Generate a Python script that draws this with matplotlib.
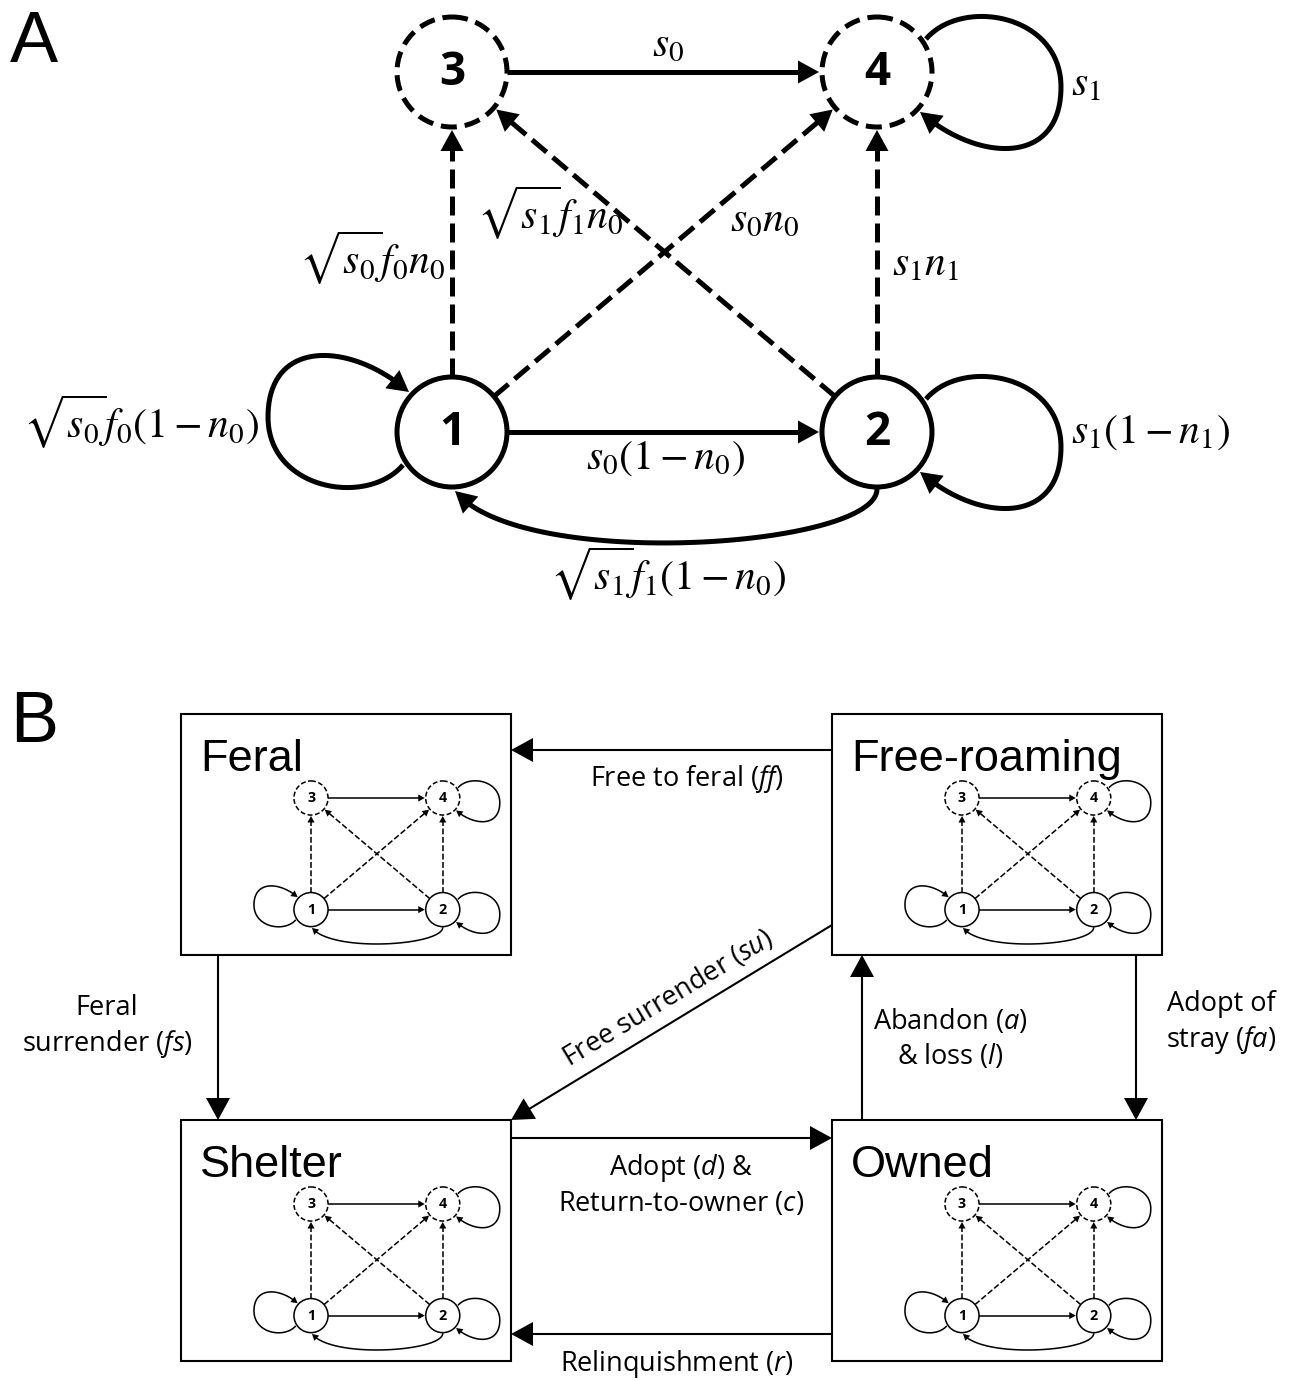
import numpy as np
import matplotlib.pyplot as plt
from matplotlib.patches import Circle, Rectangle, Polygon

plt.rcParams['mathtext.fontset'] = 'custom'
plt.rcParams['mathtext.rm'] = 'Open Sans'
plt.rcParams['mathtext.it'] = 'Open Sans:italic'

W, H = 1295, 1381

# ---- panel A: the four life stages and their transitions ----
node_ids = [1, 2, 3, 4]
dashed_nodes = [3, 4]
# (source, target, dashed)
edges = [(3, 4, False), (1, 2, False), (1, 3, True), (2, 4, True),
         (1, 4, True), (2, 3, True)]
loops = [1, 2, 4]
edge_labels = {
    (3, 4): r'$s_0$',
    (1, 2): r'$s_0(1-n_0)$',
    (1, 3): r'$\sqrt{s_0}f_0n_0$',
    (2, 4): r'$s_1n_1$',
    (1, 4): r'$s_0n_0$',
    (2, 3): r'$\sqrt{s_1}f_1n_0$',
    (1, 1): r'$\sqrt{s_0}f_0(1-n_0)$',
    (2, 2): r'$s_1(1-n_1)$',
    (4, 4): r'$s_1$',
    (2, 1): r'$\sqrt{s_1}f_1(1-n_0)$',
}

# ---- panel B: compartments and flows ----
compartments = ['Feral', 'Free-roaming', 'Shelter', 'Owned']
flows = [('Free-roaming', 'Feral', 'Free to feral ($ff$)'),
         ('Feral', 'Shelter', 'Feral\nsurrender ($fs$)'),
         ('Free-roaming', 'Shelter', 'Free surrender ($su$)'),
         ('Shelter', 'Owned', 'Adopt ($d$) &\nReturn-to-owner ($c$)'),
         ('Owned', 'Free-roaming', 'Abandon ($a$)\n& loss ($l$)'),
         ('Free-roaming', 'Owned', 'Adopt of\nstray ($fa$)'),
         ('Owned', 'Shelter', 'Relinquishment ($r$)')]

# layout (pixels)
node_xy = {1: (452, 432), 2: (877, 432), 3: (452, 72), 4: (877, 72)}
R = 55
label_xy = {(3, 4): (668, 43), (1, 2): (666, 457), (1, 3): (372, 258),
            (2, 4): (925, 263), (1, 4): (765, 218), (2, 3): (550, 213),
            (1, 1): (141, 422), (2, 2): (1151, 431), (4, 4): (1086, 83),
            (2, 1): (668, 574)}
box_xy = {'Feral': (181, 714), 'Free-roaming': (832, 714),
          'Shelter': (181, 1120), 'Owned': (832, 1120)}
BW, BH = 330, 241
flow_geom = {
    'Free to feral ($ff$)': ((832, 750), (511, 750), (687, 779), 0),
    'Feral\nsurrender ($fs$)': ((218, 955), (218, 1120), (107, 1027), 0),
    'Free surrender ($su$)': ((832, 925), (511, 1120), (668, 998), 31),
    'Adopt ($d$) &\nReturn-to-owner ($c$)': ((511, 1138), (832, 1138), (681, 1185), 0),
    'Abandon ($a$)\n& loss ($l$)': ((862, 1120), (862, 955), (950, 1039), 0),
    'Adopt of\nstray ($fa$)': ((1136, 955), (1136, 1120), (1221, 1023), 0),
    'Relinquishment ($r$)': ((832, 1334), (511, 1334), (677, 1364), 0),
}


def bezier(p0, c1, c2, p3, n=80):
    t = np.linspace(0, 1, n)[:, None]
    p0, c1, c2, p3 = map(np.asarray, (p0, c1, c2, p3))
    return (1-t)**3*p0 + 3*(1-t)**2*t*c1 + 3*(1-t)*t**2*c2 + t**3*p3


def cut_end(pts, s):
    rev = pts[::-1]
    seg = np.hypot(*np.diff(rev, axis=0).T)
    cum = np.r_[0, np.cumsum(seg)]
    i = min(max(np.searchsorted(cum, s), 1), len(rev) - 1)
    f = (s - cum[i-1]) / seg[i-1]
    p = rev[i-1] + f * (rev[i] - rev[i-1])
    return np.vstack([rev[i:][::-1], p]), p


def arrow(ax, pts, lw, hl, hw, dashed=False, dash=(3.8, 1.6)):
    pts = np.asarray(pts, float)
    tip = pts[-1]
    _, back = cut_end(pts, hl)
    u = (tip - back) / np.hypot(*(tip - back))
    nrm = np.array([-u[1], u[0]])
    base = tip - hl * u
    shaft, _ = cut_end(pts, hl * 0.7)
    ls = (0, dash) if dashed else '-'
    ax.plot(shaft[:, 0], shaft[:, 1], color='k', lw=lw, ls=ls,
            solid_capstyle='butt', dash_capstyle='butt', zorder=2)
    ax.add_patch(Polygon([tip, base + hw*nrm, base - hw*nrm], closed=True,
                         facecolor='k', edgecolor='none', zorder=3))


def draw_graph(ax, org, sc, labels):
    o3 = np.array(node_xy[3], float)

    def P(p):
        return np.asarray(org) + sc * (np.asarray(p, float) - o3)

    lw = 3.6 * sc
    hl, hw = 21 * sc, 11.5 * sc
    for a, b, dashed in edges:
        ca, cb = np.array(node_xy[a], float), np.array(node_xy[b], float)
        u = (cb - ca) / np.hypot(*(cb - ca))
        arrow(ax, [P(ca + R*u), P(cb - (R + 3)*u)], lw, hl, hw, dashed)
    for n in loops:
        c = np.array(node_xy[n], float)
        sgn = -1 if n == 1 else 1
        segA = bezier((49, -33), (85, -75), (184, -58), (184, 15))
        segB = bezier((184, 15), (184, 95), (100, 90), (43, 40))
        pts = np.vstack([segA, segB[1:]]) * sgn + c
        arrow(ax, [P(p) for p in pts], lw, hl, hw)
    arc = bezier((877, 489), (877, 548), (520, 572), (455, 491))
    arrow(ax, [P(p) for p in arc], lw, hl, hw)
    for n in node_ids:
        ls = (0, (3.2, 1.6)) if n in dashed_nodes else '-'
        ax.add_patch(Circle(P(node_xy[n]), R*sc, facecolor='white',
                            edgecolor='k', lw=lw, ls=ls, zorder=4))
        ax.text(*P(node_xy[n]), str(n), ha='center', va='center',
                fontsize=33*sc, fontweight='bold', family='Open Sans', zorder=5)
    if labels:
        for key, txt in edge_labels.items():
            ax.text(*label_xy[key], txt, ha='center', va='center',
                    fontsize=30, math_fontfamily='stix')


fig = plt.figure(figsize=(W/100, H/100), dpi=100)
ax = fig.add_axes([0, 0, 1, 1])
ax.set_xlim(0, W)
ax.set_ylim(H, 0)
ax.axis('off')

ax.text(10, 62, 'A', fontsize=52, family='Liberation Sans', va='baseline')
ax.text(10, 742, 'B', fontsize=52, family='Liberation Sans', va='baseline')

draw_graph(ax, node_xy[3], 1.0, True)

for name in compartments:
    x0, y0 = box_xy[name]
    ax.add_patch(Rectangle((x0, y0), BW, BH, fill=False, edgecolor='k', lw=1.5, zorder=1))
    ax.text(x0 + 19, y0 + 57, name, fontsize=32.5, family='Liberation Sans', va='baseline')
    draw_graph(ax, (x0 + 130, y0 + 84), 0.31, False)

for src, dst, lab in flows:
    p0, p1, lp, rot = flow_geom[lab]
    arrow(ax, [p0, p1], 1.5, 22, 12)
    ax.text(*lp, lab, ha='center', va='center', ma='center', fontsize=19.5,
            family='Open Sans', rotation=rot, rotation_mode='anchor', linespacing=1.3)

fig.savefig('out.png', dpi=100)
